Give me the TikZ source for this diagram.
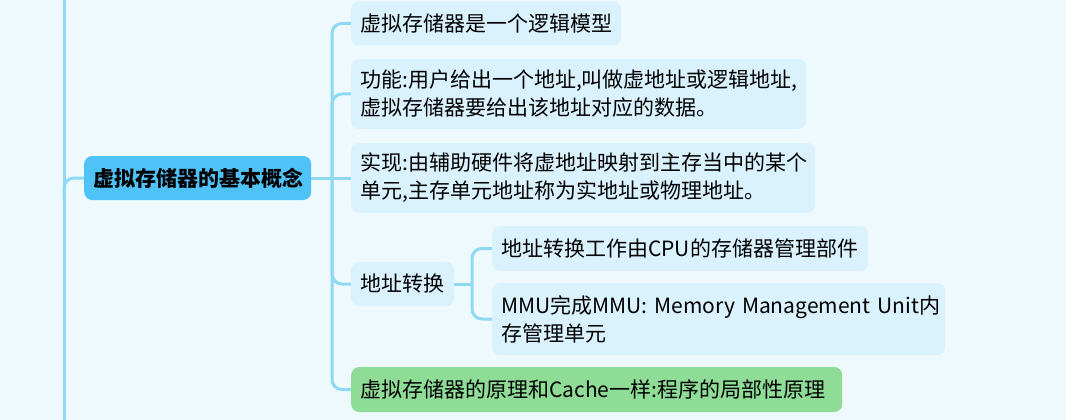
\documentclass[tikz,border=0pt]{standalone}
\usepackage{fontspec}
\setmainfont{Noto Sans CJK SC}
\definecolor{bgc}{HTML}{EEF9FE}
\definecolor{linec}{HTML}{90D9F5}
\definecolor{rootc}{HTML}{4FC3F7}
\definecolor{childc}{HTML}{DAF2FD}
\definecolor{greenc}{HTML}{8FDC97}
\tikzset{
  conn/.style={draw=linec, line width=3pt, rounded corners=10pt},
  box/.style={anchor=west, rounded corners=8pt, fill=childc, align=left, inner xsep=9pt, inner ysep=0pt,
    font=\fontsize{21}{28}\selectfont, text=black},
  rootbox/.style={box, fill=rootc, font=\fontsize{21}{28}\selectfont\bfseries},
  greenbox/.style={box, fill=greenc}
}
\begin{document}
\begin{tikzpicture}[x=1pt,y=-1pt]
\useasboundingbox (0,0) rectangle (1066,420);
\fill[bgc] (0,0) rectangle (1066,420);
% left main line
\coordinate (Ltop) at (64,0);
\coordinate (Lbot) at (64,420);
\coordinate (Lb) at (64,200);
\draw[conn] (Ltop) -- (Lbot);
% nodes
\node[rootbox, text width=209pt, minimum height=44pt] (root) at (84,178) {虚拟存储器的基本概念};
\node[box, text width=252pt, minimum height=44pt] (c1) at (351,23.5) {虚拟存储器是一个逻辑模型};
\node[box, text width=437pt, minimum height=70pt] (c2) at (351,94) {功能:用户给出一个地址,叫做虚地址或逻辑地址,\\虚拟存储器要给出该地址对应的数据。};
\node[box, text width=446pt, minimum height=70pt] (c3) at (351,178) {实现:由辅助硬件将虚地址映射到主存当中的某个\\单元,主存单元地址称为实地址或物理地址。};
\node[box, text width=85pt, minimum height=44pt] (c4) at (351,284) {地址转换};
\node[greenbox, text width=473pt, minimum height=45pt] (c5) at (351,389.5) {虚拟存储器的原理和Cache一样:程序的局部性原理};
\node[box, text width=358pt, minimum height=45pt] (s1) at (492,248.5) {地址转换工作由CPU的存储器管理部件};
\node[box, text width=435pt, minimum height=72pt] (s2) at (492,319) {\mbox{MMU完成MMU: Memory Management Unit内}\\存管理单元};
% connectors
\coordinate (T) at (332,178);
\coordinate (U) at (472,284);
\draw[conn] (Lb) |- (root.west);
\draw[conn] (root.east) -- (T);
\draw[conn] (T) |- (c1.west);
\draw[conn] (T) |- (c2.west);
\draw[conn] (T) -- (c3.west);
\draw[conn] (T) |- (c4.west);
\draw[conn] (T) |- (c5.west);
\draw[conn] (c4.east) -- (U);
\draw[conn] (U) |- (s1.west);
\draw[conn] (U) |- (s2.west);
\end{tikzpicture}
\end{document}
